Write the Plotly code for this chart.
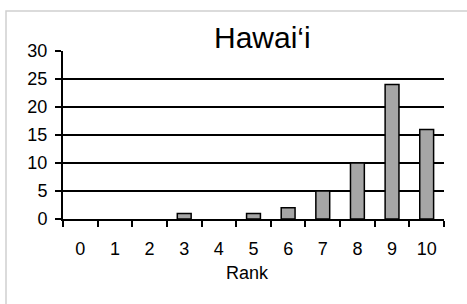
import plotly.graph_objects as go

ranks = ["0", "1", "2", "3", "4", "5", "6", "7", "8", "9", "10"]
counts = [0, 0, 0, 1, 0, 1, 2, 5, 10, 24, 16]
y_ticks = [0, 5, 10, 15, 20, 25, 30]
title_text = "Hawai‘i"
x_title = "Rank"

W, H = 467, 304
L, R, T, B = 63, 23, 51, 85
pw, ph = W - L - R, H - T - B

font = "Liberation Sans, Arial, sans-serif"

# zero counts draw no bar (no outline stub), as in the reference
bar_vals = [v if v != 0 else None for v in counts]

fig = go.Figure(go.Bar(
    x=ranks, y=bar_vals,
    marker=dict(color="#a6a6a6", line=dict(color="black", width=1.5)),
))

fig.update_layout(
    width=W, height=H,
    margin=dict(l=L, r=R, t=T, b=B, autoexpand=False),
    paper_bgcolor="white", plot_bgcolor="white",
    bargap=0.6, showlegend=False,
    font=dict(family=font, color="black", size=18),
    xaxis=dict(
        type="category", tickson="boundaries", ticks="outside", ticklen=6,
        tickwidth=2, tickcolor="black", showline=True, linecolor="black",
        linewidth=2, showgrid=False, tickfont=dict(size=18),
        ticklabelstandoff=12,
    ),
    yaxis=dict(
        range=[0, 30], tickvals=y_ticks, ticks="outside", ticklen=6,
        tickwidth=2, tickcolor="black", showline=True, linecolor="black",
        linewidth=2, showgrid=True, gridcolor="black", gridwidth=2,
        zeroline=False, tickfont=dict(size=18), ticklabelstandoff=4,
    ),
    annotations=[
        dict(text=title_text, xref="paper", yref="paper",
             x=(262 - L) / pw, y=1 + (51 - 37) / ph, xanchor="center", yanchor="middle",
             showarrow=False, font=dict(size=30, family=font)),
        dict(text=x_title, xref="paper", yref="paper",
             x=(247 - L) / pw, y=-(273 - (T + ph)) / ph, xanchor="center", yanchor="middle",
             showarrow=False, font=dict(size=18, family=font)),
    ],
    shapes=[
        dict(type="rect", xref="paper", yref="paper",
             x0=(6 - L) / pw, x1=(475 - L) / pw,
             y0=-(315 - (T + ph)) / ph, y1=1 + (T - 11) / ph,
             line=dict(color="#d0d0d0", width=1.5), layer="below"),
    ],
)

fig.write_html("out.html", config={"displayModeBar": False},
               post_script="document.body.style.margin='0';")
